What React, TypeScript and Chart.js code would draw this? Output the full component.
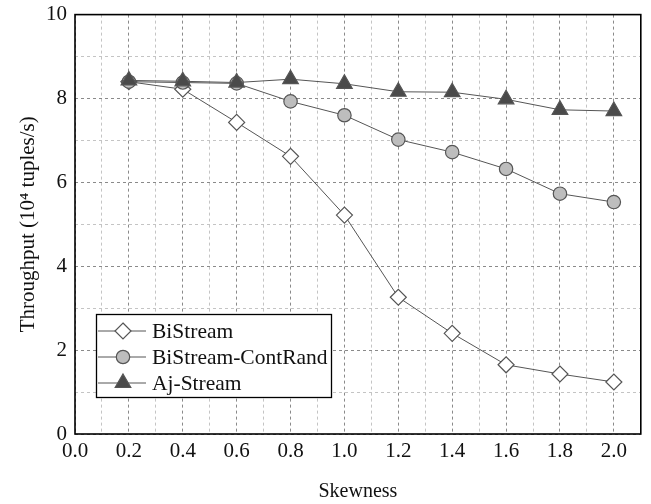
import React, { useEffect, useRef } from "react";
import { Chart, registerables } from "chart.js";

Chart.register(...registerables);

const skewness = [0.2, 0.4, 0.6, 0.8, 1.0, 1.2, 1.4, 1.6, 1.8, 2.0];
const biStream = [8.4, 8.22, 7.43, 6.62, 5.22, 3.26, 2.4, 1.65, 1.43, 1.24];
const contRand = [8.4, 8.38, 8.36, 7.93, 7.6, 7.02, 6.72, 6.32, 5.73, 5.53];
const ajStream = [8.43, 8.41, 8.38, 8.46, 8.35, 8.16, 8.15, 7.98, 7.73, 7.7];
const seriesNames = ["BiStream", "BiStream-ContRand", "Aj-Stream"];
const xTickLabels = ["0.0", "0.2", "0.4", "0.6", "0.8", "1.0", "1.2", "1.4", "1.6", "1.8", "2.0"];
const yTickLabels = ["0", "2", "4", "6", "8", "10"];

const FONT = "'Liberation Serif', 'Times New Roman', serif";
const LINE = "#555555";
const SHIFT = 6;

const toPts = (ys: number[]) => skewness.map((x, i) => ({ x, y: ys[i] }));

const isMajor = (v: number, step: number) => {
  const r = v / step;
  return Math.abs(r - Math.round(r)) < 1e-6;
};

const framePlugin = {
  id: "frameAndLegend",
  afterDatasetsDraw(chart: any) {
    const { ctx, chartArea } = chart;
    ctx.save();
    // legend
    const bx = 96.5, by = 314.5 + SHIFT, bw = 235, bh = 83;
    ctx.fillStyle = "#ffffff";
    ctx.fillRect(bx, by, bw, bh);
    ctx.strokeStyle = "#000";
    ctx.lineWidth = 1.3;
    ctx.setLineDash([]);
    ctx.strokeRect(bx, by, bw, bh);
    const rows = [331 + SHIFT, 357 + SHIFT, 383 + SHIFT];
    chart.data.datasets.forEach((ds: any, i: number) => {
      const y = rows[i];
      ctx.strokeStyle = ds.borderColor;
      ctx.lineWidth = 1;
      ctx.beginPath();
      ctx.moveTo(98, y);
      ctx.lineTo(146, y);
      ctx.stroke();
      ctx.fillStyle = ds.pointBackgroundColor;
      ctx.strokeStyle = ds.pointBorderColor;
      ctx.lineWidth = ds.pointBorderWidth;
      const r = ds.pointRadius;
      ctx.beginPath();
      if (ds.pointStyle === "rectRot") {
        ctx.moveTo(123, y - r);
        ctx.lineTo(123 + r, y);
        ctx.lineTo(123, y + r);
        ctx.lineTo(123 - r, y);
        ctx.closePath();
      } else if (ds.pointStyle === "circle") {
        ctx.arc(123, y, r, 0, Math.PI * 2);
      } else {
        const s = Math.sin(Math.PI / 3) * r;
        ctx.moveTo(123, y - r);
        ctx.lineTo(123 + s, y + r / 2);
        ctx.lineTo(123 - s, y + r / 2);
        ctx.closePath();
      }
      ctx.fill();
      ctx.stroke();
      ctx.fillStyle = "#111";
      ctx.font = `21.5px ${FONT}`;
      ctx.textBaseline = "middle";
      ctx.textAlign = "left";
      ctx.fillText(ds.label, 152, y + 1);
    });
    // frame
    ctx.strokeStyle = "#000";
    ctx.lineWidth = 1.6;
    ctx.strokeRect(chartArea.left, chartArea.top, chartArea.right - chartArea.left, chartArea.bottom - chartArea.top);
    ctx.restore();
  },
};

export default function App() {
  const ref = useRef<HTMLCanvasElement>(null);
  useEffect(() => {
    document.body.style.margin = "0";
    const mk = (label: string, data: number[], style: string, bg: string, r: number, order: number) => ({
      label,
      data: toPts(data),
      borderColor: LINE,
      borderWidth: 1,
      pointStyle: style,
      pointBackgroundColor: bg,
      pointBorderColor: LINE,
      pointBorderWidth: 1.2,
      pointRadius: r,
      order,
      tension: 0,
    });
    const chart = new Chart(ref.current!, {
      type: "line",
      data: {
        datasets: [
          mk(seriesNames[0], biStream, "rectRot", "#ffffff", 8, 3),
          mk(seriesNames[1], contRand, "circle", "#bdbdbd", 6.7, 2),
          mk(seriesNames[2], ajStream, "triangle", "#4a4a4a", 9, 1),
        ] as any,
      },
      options: {
        animation: false,
        responsive: false,
        layout: { padding: { top: 0, right: 10, left: 0, bottom: 0 } },
        plugins: { legend: { display: false }, tooltip: { enabled: false } },
        scales: {
          x: {
            type: "linear",
            min: 0,
            max: 2.1,
            afterFit: (s: any) => { s.height = 70; },
            afterBuildTicks: (s: any) => {
              const t = [];
              for (let i = 0; i <= 21; i++) t.push({ value: i / 10 });
              s.ticks = t;
            },
            ticks: {
              autoSkip: false,
              maxRotation: 0,
              padding: 5,
              color: "#111",
              font: { family: FONT, size: 21 },
              callback: (v: any) => {
                const idx = Math.round(Number(v) * 10);
                return idx % 2 === 0 && idx / 2 < xTickLabels.length ? xTickLabels[idx / 2] : "";
              },
            },
            grid: {
              drawTicks: false,
              color: (c: any) => (isMajor(c.tick?.value ?? 0, 0.2) ? "#8a8a8a" : "#c4c4c4"),
              lineWidth: 1,
            },
            border: { display: false, dash: [3, 3] },
            title: {
              display: true,
              text: "Skewness",
              color: "#111",
              font: { family: FONT, size: 20 },
              padding: { top: 14, bottom: 0 },
            },
          },
          y: {
            type: "linear",
            min: 0,
            max: 10,
            afterFit: (s: any) => { s.width = 75; },
            afterBuildTicks: (s: any) => {
              const t = [];
              for (let i = 0; i <= 10; i++) t.push({ value: i });
              s.ticks = t;
            },
            ticks: {
              autoSkip: false,
              padding: 8,
              color: "#111",
              font: { family: FONT, size: 21 },
              callback: (v: any) => {
                const n = Math.round(Number(v));
                return n % 2 === 0 ? yTickLabels[n / 2] : "";
              },
            },
            grid: {
              drawTicks: false,
              color: (c: any) => (isMajor(c.tick?.value ?? 0, 2) ? "#8a8a8a" : "#c4c4c4"),
              lineWidth: 1,
            },
            border: { display: false, dash: [3, 3] },
            title: {
              display: true,
              text: "Throughput (10\u2074 tuples/s)",
              color: "#111",
              font: { family: FONT, size: 21 },
              padding: { top: 16, bottom: 0 },
            },
          },
        },
      } as any,
      plugins: [framePlugin],
    });
    return () => chart.destroy();
  }, []);
  return (
    <div style={{ width: 651, height: 504, background: "#fff", overflow: "hidden" }}>
      <canvas ref={ref} width={651} height={504 + SHIFT} style={{ display: "block", marginTop: -SHIFT }} />
    </div>
  );
}
